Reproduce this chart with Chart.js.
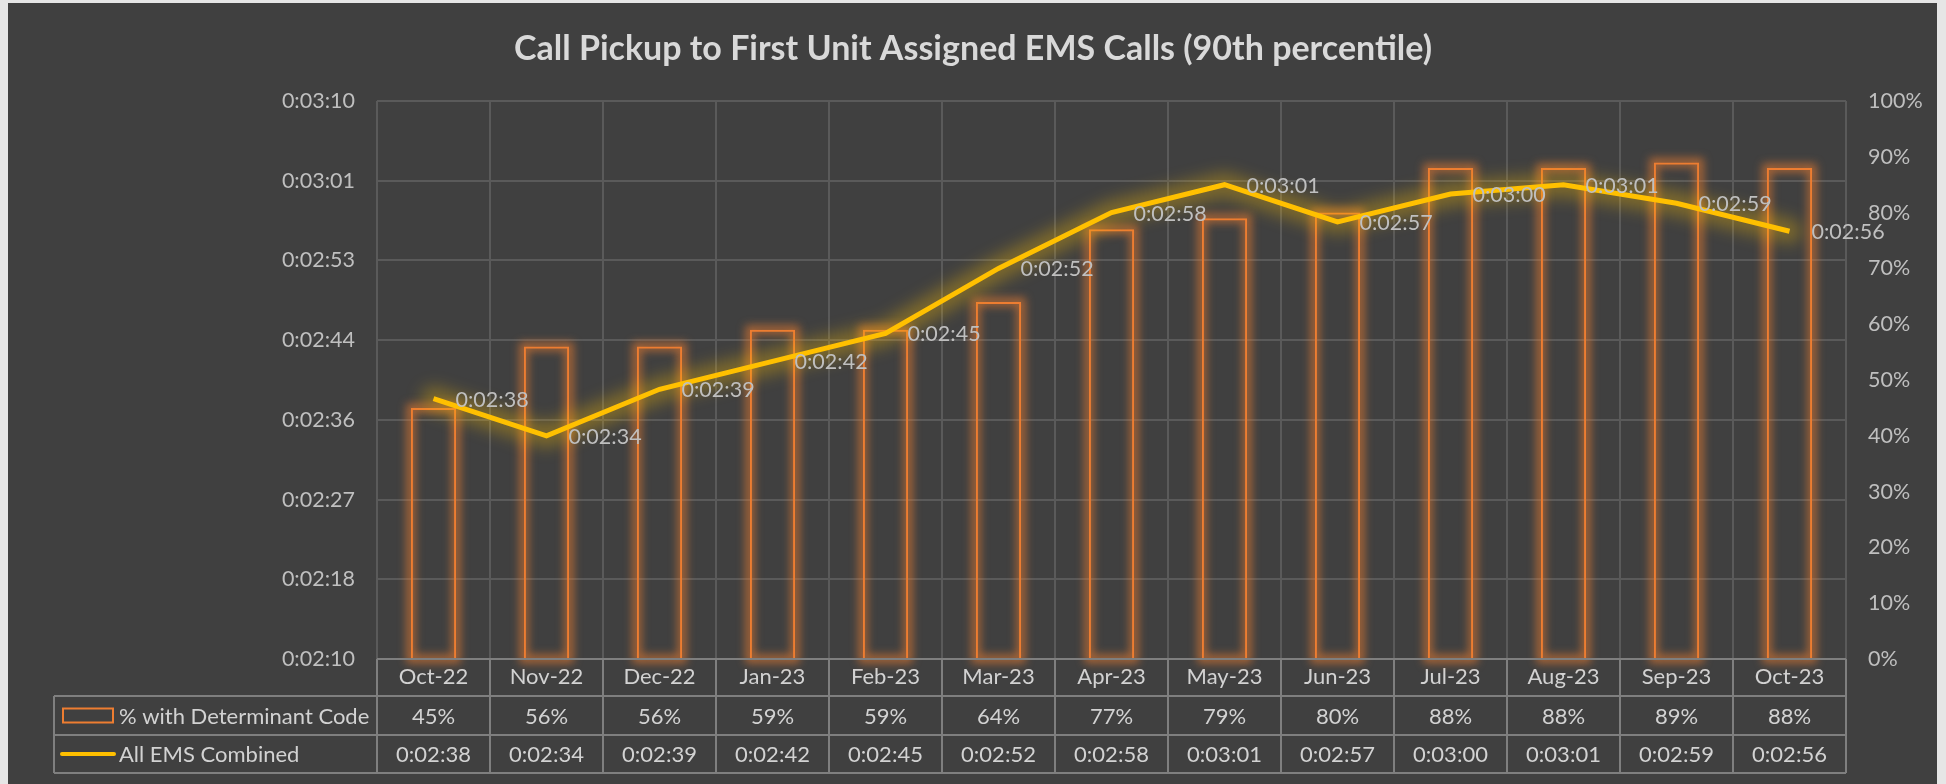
<!DOCTYPE html>
<html>
<head>
<meta charset="utf-8">
<title>Call Pickup to First Unit Assigned EMS Calls</title>
<script src="https://cdn.jsdelivr.net/npm/chart.js@4.4.1/dist/chart.umd.min.js"></script>
<style>
  html, body { margin: 0; padding: 0; background: #e6e6e6; }
  canvas { display: block; }
</style>
</head>
<body>
<canvas id="emsChart" width="1946" height="784"></canvas>
<script>
// Chart data
const months = ["Oct-22", "Nov-22", "Dec-22", "Jan-23", "Feb-23", "Mar-23", "Apr-23",
  "May-23", "Jun-23", "Jul-23", "Aug-23", "Sep-23", "Oct-23"];
const pctDeterminant = [45, 56, 56, 59, 59, 64, 77, 79, 80, 88, 88, 89, 88];
const emsTimes = ["0:02:38", "0:02:34", "0:02:39", "0:02:42", "0:02:45", "0:02:52", "0:02:58",
  "0:03:01", "0:02:57", "0:03:00", "0:03:01", "0:02:59", "0:02:56"];
const timeTickLabels = ["0:02:10", "0:02:18", "0:02:27", "0:02:36", "0:02:44", "0:02:53", "0:03:01", "0:03:10"];

const FONT = "Lato, 'Open Sans', sans-serif";
const AXIS_TEXT = "#bfbfbf";
const TABLE_TEXT = "#d2d2d2";
const TABLE_LINE = "#7f7f7f";
const GRID = "#5a5a5a";
const ORANGE = "#ED7D31";
const GOLD = "#FFC000";
const TEXT_SIZE = 21.5;

function toSeconds(t) {
  const p = t.split(":").map(Number);
  return p[0] * 3600 + p[1] * 60 + p[2];
}
const emsSeconds = emsTimes.map(toSeconds);

// dark panel behind everything
const panelPlugin = {
  id: "panel",
  beforeDraw(chart) {
    const ctx = chart.ctx;
    ctx.save();
    ctx.fillStyle = "#e6e6e6";
    ctx.fillRect(0, 0, chart.width, chart.height);
    ctx.fillStyle = "#404040";
    ctx.fillRect(8, 3, chart.width - 17, chart.height - 3);
    ctx.restore();
  }
};

// soft glow under bars and line (Excel style)
const glowPlugin = {
  id: "glow",
  beforeDatasetDraw(chart, args) {
    const ctx = chart.ctx;
    const meta = args.meta;
    ctx.save();
    if (meta.type === "bar") {
      ctx.filter = "blur(4px)";
      ctx.strokeStyle = "rgba(237,125,49,0.6)";
      ctx.lineWidth = 9;
      meta.data.forEach(function (bar) {
        const p = bar.getProps(["x", "y", "base", "width"], true);
        ctx.strokeRect(p.x - p.width / 2, p.y, p.width, p.base - p.y);
      });
    } else if (meta.type === "line") {
      ctx.filter = "blur(8px)";
      ctx.strokeStyle = "rgba(255,192,0,0.32)";
      ctx.lineWidth = 24;
      ctx.lineJoin = "round";
      ctx.lineCap = "round";
      ctx.beginPath();
      meta.data.forEach(function (pt, i) {
        if (i === 0) ctx.moveTo(pt.x, pt.y);
        else ctx.lineTo(pt.x, pt.y);
      });
      ctx.stroke();
    }
    ctx.restore();
  }
};

// value labels to the right of each line point
const lineLabelPlugin = {
  id: "lineLabels",
  afterDatasetsDraw(chart) {
    const ctx = chart.ctx;
    const meta = chart.getDatasetMeta(1);
    ctx.save();
    ctx.font = TEXT_SIZE + "px " + FONT;
    ctx.fillStyle = AXIS_TEXT;
    ctx.textAlign = "left";
    ctx.textBaseline = "middle";
    meta.data.forEach(function (pt, i) {
      ctx.fillText(emsTimes[i], pt.x + 22, pt.y + 1);
    });
    ctx.restore();
  }
};

// data table under the plot (legend keys + values)
const dataTablePlugin = {
  id: "dataTable",
  afterDraw(chart) {
    const ctx = chart.ctx;
    const x = chart.scales.x;
    const area = chart.chartArea;
    const half = (x.getPixelForValue(1) - x.getPixelForValue(0)) / 2;
    const tableLeft = 54;
    const rowTop = area.bottom;
    const rows = [rowTop, rowTop + 37, rowTop + 76, rowTop + 114];

    ctx.save();
    ctx.strokeStyle = TABLE_LINE;
    ctx.lineWidth = 2;
    ctx.beginPath();
    // horizontal rules
    ctx.moveTo(area.left, rows[0]); ctx.lineTo(area.right, rows[0]);
    for (let r = 1; r < rows.length; r++) {
      ctx.moveTo(tableLeft, rows[r]); ctx.lineTo(area.right, rows[r]);
    }
    // column rules
    ctx.moveTo(tableLeft, rows[1]); ctx.lineTo(tableLeft, rows[3]);
    for (let i = 0; i < months.length; i++) {
      const left = x.getPixelForValue(i) - half;
      ctx.moveTo(left, rows[0]); ctx.lineTo(left, rows[3]);
    }
    ctx.moveTo(area.right, rows[0]); ctx.lineTo(area.right, rows[3]);
    ctx.stroke();

    ctx.font = "22px " + FONT;
    ctx.fillStyle = TABLE_TEXT;
    ctx.textBaseline = "middle";
    ctx.textAlign = "center";
    const mid2 = (rows[1] + rows[2]) / 2;
    const mid3 = (rows[2] + rows[3]) / 2;
    for (let i = 0; i < months.length; i++) {
      const cx = x.getPixelForValue(i);
      ctx.fillText(pctDeterminant[i] + "%", cx, mid2 + 1);
      ctx.fillText(emsTimes[i], cx, mid3 + 1);
    }

    // legend keys
    ctx.textAlign = "left";
    ctx.fillText("% with Determinant Code", 119, mid2 + 1);
    ctx.fillText("All EMS Combined", 119, mid3 + 1);
    ctx.strokeStyle = ORANGE;
    ctx.lineWidth = 2;
    ctx.strokeRect(63, mid2 - 7, 50, 14);
    ctx.beginPath();
    ctx.strokeStyle = GOLD;
    ctx.lineWidth = 4;
    ctx.lineCap = "round";
    ctx.moveTo(62, mid3); ctx.lineTo(114, mid3);
    ctx.stroke();
    ctx.restore();
  }
};

const ctx = document.getElementById("emsChart").getContext("2d");
new Chart(ctx, {
  data: {
    labels: months,
    datasets: [
      {
        type: "bar",
        label: "% with Determinant Code",
        data: pctDeterminant,
        yAxisID: "y1",
        backgroundColor: "rgba(0,0,0,0)",
        borderColor: ORANGE,
        borderWidth: 2,
        barPercentage: 0.4,
        categoryPercentage: 1,
        order: 1
      },
      {
        type: "line",
        label: "All EMS Combined",
        data: emsSeconds,
        yAxisID: "y",
        borderColor: GOLD,
        borderWidth: 5,
        pointRadius: 0,
        tension: 0,
        fill: false,
        order: 0
      }
    ]
  },
  options: {
    responsive: false,
    animation: false,
    devicePixelRatio: 1,
    layout: { padding: 0 },
    scales: {
      x: {
        offset: true,
        grid: { display: true, offset: true, color: GRID, lineWidth: 2, drawTicks: false },
        border: { display: false },
        ticks: { color: TABLE_TEXT, font: { family: FONT, size: 22 }, padding: 5, maxRotation: 0 },
        afterFit: function (scale) { scale.height = 125; }
      },
      y: {
        position: "left",
        min: 130,
        max: 190,
        grid: { color: GRID, lineWidth: 2, drawTicks: false },
        border: { display: false },
        ticks: {
          stepSize: 60 / 7,
          padding: 22,
          color: AXIS_TEXT,
          font: { family: FONT, size: TEXT_SIZE },
          callback: function (value, index) { return timeTickLabels[index]; }
        },
        afterFit: function (scale) { scale.width = 377; }
      },
      y1: {
        position: "right",
        min: 0,
        max: 100,
        grid: { display: false, drawTicks: false },
        border: { display: false },
        ticks: {
          stepSize: 10,
          padding: 22,
          color: AXIS_TEXT,
          font: { family: FONT, size: TEXT_SIZE },
          callback: function (value) { return value + "%"; }
        },
        afterFit: function (scale) { scale.width = 100; }
      }
    },
    plugins: {
      legend: { display: false },
      tooltip: { enabled: false },
      title: {
        display: true,
        text: "Call Pickup to First Unit Assigned EMS Calls (90th percentile)",
        color: "#d9d9d9",
        font: { family: FONT, size: 34, weight: "bold", lineHeight: 1.2 },
        padding: { top: 29, bottom: 31.2 }
      }
    }
  },
  plugins: [panelPlugin, glowPlugin, lineLabelPlugin, dataTablePlugin]
});
</script>
</body>
</html>
